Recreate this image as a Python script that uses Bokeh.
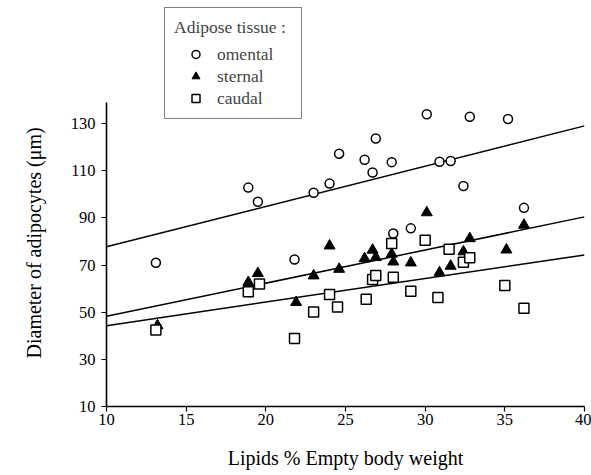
from bokeh.plotting import figure
from bokeh.models import Range1d, FixedTicker, Legend, LegendItem
from bokeh.embed import file_html
from bokeh.resources import INLINE

# ---- data ----
omental_x = [13.1, 18.9, 19.5, 21.8, 23.0, 24.0, 24.6, 26.2, 26.7, 26.9,
             27.9, 28.0, 29.1, 30.1, 30.9, 31.6, 32.4, 32.8, 35.2, 36.2]
omental_y = [71.0, 102.9, 96.9, 72.4, 100.7, 104.6, 117.3, 114.7, 109.3, 123.7,
             113.7, 83.4, 85.6, 134.0, 113.9, 114.2, 103.6, 133.0, 132.0, 94.3]

sternal_x = [13.2, 18.9, 19.5, 21.9, 23.0, 24.0, 24.6, 26.2, 26.7, 26.9,
             27.9, 28.0, 29.1, 30.1, 30.9, 31.6, 32.4, 32.8, 35.1, 36.2]
sternal_y = [44.3, 62.7, 66.5, 54.2, 65.5, 78.2, 68.3, 72.8, 76.4, 73.3,
             74.7, 71.4, 71.0, 92.3, 66.8, 69.6, 75.7, 81.3, 76.5, 87.0]

caudal_x = [13.1, 18.9, 19.6, 21.8, 23.0, 24.0, 24.5, 26.3, 26.7, 26.9,
            27.9, 28.0, 29.1, 30.0, 30.8, 31.5, 32.4, 32.8, 35.0, 36.2]
caudal_y = [42.5, 58.7, 62.0, 38.9, 50.1, 57.5, 52.2, 55.5, 63.9, 65.6,
            79.2, 64.8, 58.9, 80.6, 56.3, 76.7, 71.2, 73.1, 61.3, 51.7]

# regression lines (intercept, slope)
fit_omental = (60.7, 1.71)
fit_sternal = (34.2, 1.407)
fit_caudal = (34.3, 1.0)
fit_x = [10, 40]

x_ticks = [10, 15, 20, 25, 30, 35, 40]
y_ticks = [10, 30, 50, 70, 90, 110, 130]
y_axis_top = 139

series_names = ["omental", "sternal", "caudal"]
legend_title = "Adipose tissue :"
x_label = "Lipids % Empty body weight"
y_label = "Diameter of adipocytes (\u03bcm)"

FONT = "Liberation Serif"

# frame spans the full height so the legend box can sit above the axis top;
# the y axis itself is bounded to 10..139
p = figure(width=591, height=475, output_backend="svg", toolbar_location=None,
           x_range=Range1d(10, 40), y_range=Range1d(10, 182.3),
           min_border_left=106, min_border_right=7, min_border_top=0,
           min_border_bottom=69)
p.outline_line_color = None
p.grid.visible = False
p.background_fill_color = "white"
p.border_fill_color = "white"

for ax in (p.xaxis[0], p.yaxis[0]):
    ax.axis_line_color = "black"
    ax.axis_line_width = 1.6
    ax.major_tick_line_color = "black"
    ax.major_tick_line_width = 1.2
    ax.major_tick_out = 5
    ax.major_tick_in = 0
    ax.minor_tick_line_color = None
    ax.major_label_text_font = FONT
    ax.major_label_text_font_size = "16.5px"
    ax.major_label_text_color = "black"
    ax.axis_label_text_font = FONT
    ax.axis_label_text_font_size = "20px"
    ax.axis_label_text_font_style = "normal"
    ax.axis_label_text_color = "black"

p.xaxis[0].ticker = FixedTicker(ticks=x_ticks)
p.yaxis[0].ticker = FixedTicker(ticks=y_ticks)
p.yaxis[0].bounds = (y_ticks[0], y_axis_top)
p.xaxis[0].axis_label = x_label
p.xaxis[0].axis_label_standoff = 19
p.xaxis[0].major_label_standoff = 2
p.yaxis[0].major_label_standoff = 6

# y label as a left-side title so it can be centred on the bounded axis
p.title_location = "left"
p.title.text = y_label
p.title.text_font = FONT
p.title.text_font_size = "20px"
p.title.text_font_style = "normal"
p.title.text_color = "black"
p.title.align = "left"
p.title.vertical_align = "top"
p.title.offset = 48
p.title.standoff = 42

for a, b in (fit_omental, fit_sternal, fit_caudal):
    p.line(fit_x, [a + b * x for x in fit_x], line_color="black", line_width=1.5)

r_om = p.scatter(omental_x, omental_y, marker="circle", size=9, fill_color="white",
                 line_color="black", line_width=1.5)
r_st = p.scatter(sternal_x, sternal_y, marker="triangle", size=11, fill_color="black",
                 line_color="black", line_width=1)
r_ca = p.scatter(caudal_x, caudal_y, marker="square", size=10, fill_color="white",
                 line_color="black", line_width=1.5)

legend = Legend(items=[LegendItem(label=series_names[0], renderers=[r_om]),
                       LegendItem(label=series_names[1], renderers=[r_st]),
                       LegendItem(label=series_names[2], renderers=[r_ca])],
                location=(58, 287), title=legend_title)
legend.title_text_font = FONT
legend.title_text_font_size = "17.5px"
legend.title_text_font_style = "normal"
legend.title_standoff = 5
legend.label_text_font = FONT
legend.label_text_font_size = "17.5px"
legend.padding = 9
legend.spacing = 0
legend.margin = 0
legend.glyph_width = 43
legend.glyph_height = 20
legend.label_height = 22
legend.label_width = 75
legend.label_standoff = 0
legend.border_line_color = "black"
legend.border_line_width = 1.2
legend.background_fill_color = "white"
legend.background_fill_alpha = 1
p.add_layout(legend, "center")

open("out.html", "w").write(file_html(p, INLINE))
